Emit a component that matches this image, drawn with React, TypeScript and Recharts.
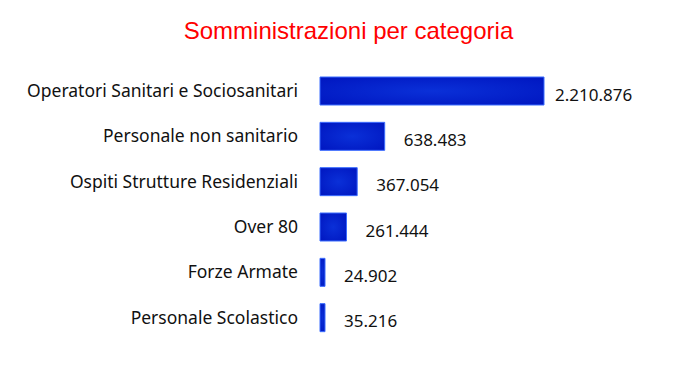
import { BarChart, Bar, XAxis, YAxis, LabelList } from 'recharts';

// categorie e somministrazioni (dal grafico)
const categories = [
  'Operatori Sanitari e Sociosanitari',
  'Personale non sanitario',
  'Ospiti Strutture Residenziali',
  'Over 80',
  'Forze Armate',
  'Personale Scolastico',
];
const doses = [2210876, 638483, 367054, 261444, 24902, 35216];
const doseLabels = ['2.210.876', '638.483', '367.054', '261.444', '24.902', '35.216'];

const data = categories.map((name, i) => ({ name, value: doses[i], label: doseLabels[i] }));

const FONT = '"Noto Sans", sans-serif';

const ValueLabel = (props: any) => {
  const { x, y, width, height, index } = props;
  const lx = Math.min(x + width + 19, 555);
  return (
    <text
      x={lx}
      y={y + height / 2 + 5}
      dominantBaseline="middle"
      fontSize={17}
      fontFamily={FONT}
      fill="#111"
    >
      {doseLabels[index]}
    </text>
  );
};

export default function App() {
  return (
    <div style={{ position: 'absolute', left: 0, top: 0, width: 691, height: 376, background: '#fff' }}>
      <div
        style={{
          position: 'absolute',
          left: 0,
          width: 697,
          top: 17,
          textAlign: 'center',
          fontFamily: '"Liberation Sans", Arial, sans-serif',
          fontSize: 24,
          color: '#ff0000',
        }}
      >
        Somministrazioni per categoria
      </div>
      <BarChart
        width={691}
        height={376}
        data={data}
        layout="vertical"
        margin={{ top: 68, right: 147, bottom: 36, left: 8 }}
        barSize={28}
      >
        <defs>
          <radialGradient id="barFill" cx="50%" cy="50%" r="70%">
            <stop offset="0%" stopColor="#0a30d8" />
            <stop offset="100%" stopColor="#0016c0" />
          </radialGradient>
        </defs>
        <XAxis type="number" hide domain={[0, 2210876]} />
        <YAxis
          type="category"
          dataKey="name"
          width={312}
          axisLine={false}
          tickLine={false}
          tickSize={0}
          tickMargin={22}
          tick={{ fontSize: 17.5, fontFamily: FONT, fill: '#111' }}
        />
        <Bar
          dataKey="value"
          fill="url(#barFill)"
          stroke="#3b6cff"
          strokeWidth={1}
          minPointSize={5}
          isAnimationActive={false}
        >
          <LabelList dataKey="label" content={<ValueLabel />} />
        </Bar>
      </BarChart>
    </div>
  );
}
